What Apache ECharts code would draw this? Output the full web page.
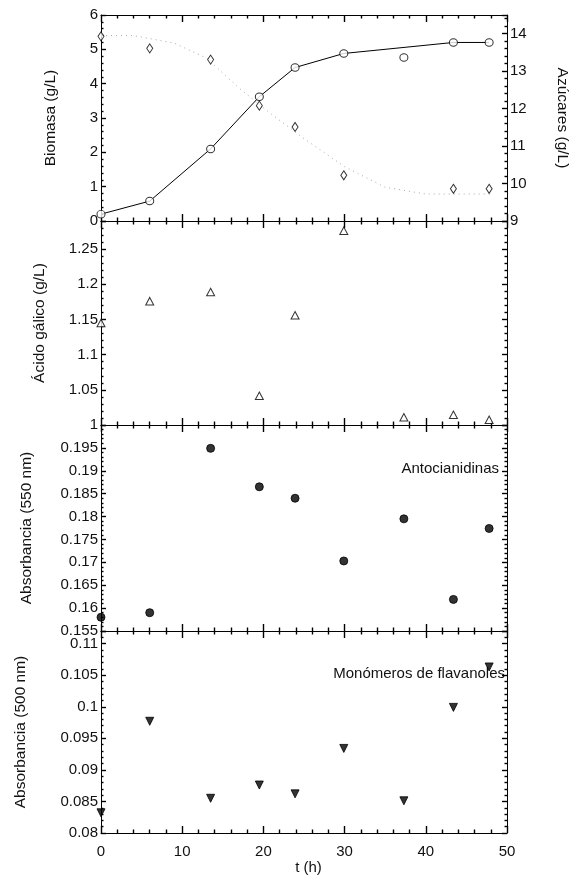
<!DOCTYPE html>
<html>
<head>
<meta charset="utf-8">
<style>
  html, body { margin: 0; padding: 0; background: #fff; }
  #chart { width: 582px; height: 876px; }
</style>
<script src="https://cdn.jsdelivr.net/npm/echarts@6/dist/echarts.min.js"></script>
</head>
<body>
<div id="chart"></div>
<script>
// Sampling times (h)
const hours = [0, 6, 13.5, 19.5, 23.9, 29.9, 37.3, 43.4, 47.8];

// Biomass (g/L), measured and fitted growth curve
const biomass = [0.2, 0.58, 2.1, 3.62, 4.47, 4.88, 4.76, 5.2, 5.2];
const biomassFitHours = [0, 6, 13.5, 19.5, 23.9, 29.9, 43.4, 47.8];
const biomassFit = [0.2, 0.58, 2.1, 3.62, 4.47, 4.88, 5.2, 5.2];

// Sugars (g/L), measured and fitted consumption curve
const sugarHours = [0, 6, 13.5, 19.5, 23.9, 29.9, 43.4, 47.8];
const sugars = [13.93, 13.61, 13.31, 12.08, 11.51, 10.22, 9.86, 9.86];
const sugarFitHours = [0, 4, 9, 13, 17, 21, 25, 30, 35, 40, 48];
const sugarFit = [13.95, 13.95, 13.75, 13.35, 12.55, 11.85, 11.2, 10.45, 9.9, 9.72, 9.72];

// Gallic acid (g/L)
const gallic = [1.145, 1.176, 1.189, 1.0415, 1.156, 1.276, 1.011, 1.0146, 1.0075];

// Absorbances
const anthocyanidins = [0.158, 0.159, 0.1949, 0.1865, 0.184, 0.1703, 0.1795, 0.1619, 0.1774];
const flavanols = [0.0832, 0.0977, 0.0855, 0.0876, 0.0862, 0.0934, 0.0851, 0.0999, 0.1063];

// Axis tick labels on the time axis
const timeTicks = [0, 10, 20, 30, 40, 50];

const FONT = 'Liberation Sans';
const INK = '#111';

const pairs = (xs, ys) => xs.map((x, i) => [x, ys[i]]);

// Pixel boxes of the four stacked plots
const panels = [
  { top: 15, height: 206 },
  { top: 221, height: 204 },
  { top: 425, height: 206 },
  { top: 631, height: 202 }
];

const grids = panels.map(p => ({ left: 101, right: 75, top: p.top, height: p.height }));

const axisInk = () => ({ color: '#000', width: 1 });
const tickInk = () => ({ color: '#000', width: 1.4 });

function timeAxis(gridIndex, position, showLabels) {
  return {
    type: 'value', gridIndex, position,
    min: timeTicks[0], max: timeTicks[timeTicks.length - 1], interval: 10,
    axisLine: { show: true, onZero: false, lineStyle: axisInk() },
    axisTick: { show: true, inside: true, length: 7, lineStyle: tickInk() },
    minorTick: { show: true, splitNumber: 5, length: 3.5, lineStyle: tickInk() },
    splitLine: { show: false },
    minorSplitLine: { show: false },
    axisLabel: {
      show: showLabels, margin: 11, color: INK, fontFamily: FONT, fontSize: 15
    },
    name: showLabels ? 't (h)' : '',
    nameLocation: 'middle', nameGap: 21,
    nameTextStyle: { color: INK, fontFamily: FONT, fontSize: 15, padding: [0, 0, 0, 9] }
  };
}

const xAxes = [];
panels.forEach((p, i) => {
  xAxes.push(timeAxis(i, 'bottom', i === panels.length - 1));
  xAxes.push(timeAxis(i, 'top', false));
});

function valueAxis(gridIndex, position, min, max, interval, opts) {
  const o = opts || {};
  return {
    type: 'value', gridIndex, position, min, max, interval,
    axisLine: { show: true, onZero: false, lineStyle: axisInk() },
    axisTick: { show: true, inside: true, length: 5, lineStyle: tickInk() },
    minorTick: { show: true, splitNumber: 5, length: 2.5, lineStyle: tickInk() },
    splitLine: { show: false },
    minorSplitLine: { show: false },
    axisLabel: {
      show: o.labels !== false, margin: 3, color: INK, fontFamily: FONT, fontSize: 15,
      showMaxLabel: o.showMax === true
    },
    name: o.name || '',
    nameLocation: 'middle', nameGap: o.nameGap || 40,
    nameRotate: position === 'right' ? -90 : 90,
    nameTextStyle: { color: INK, fontFamily: FONT, fontSize: 15.5 }
  };
}

const yAxes = [
  valueAxis(0, 'left', 0, 6, 1, { name: 'Biomasa (g/L)', nameGap: 42, showMax: true }),
  valueAxis(0, 'right', 9, 14.5, 1, { name: 'Azúcares (g/L)', nameGap: 47 }),
  valueAxis(1, 'left', 1, 1.29, 0.05, { name: 'Ácido gálico (g/L)', nameGap: 53 }),
  valueAxis(1, 'right', 1, 1.29, 0.05, { labels: false }),
  valueAxis(2, 'left', 0.155, 0.2, 0.005, { name: 'Absorbancia (550 nm)', nameGap: 66 }),
  valueAxis(2, 'right', 0.155, 0.2, 0.005, { labels: false }),
  valueAxis(3, 'left', 0.08, 0.112, 0.005, { name: 'Absorbancia (500 nm)', nameGap: 72 }),
  valueAxis(3, 'right', 0.08, 0.112, 0.005, { labels: false })
];

const series = [
  {
    name: 'Biomasa (ajuste)', type: 'line', xAxisIndex: 0, yAxisIndex: 0,
    data: pairs(biomassFitHours, biomassFit), showSymbol: false,
    lineStyle: { color: '#000', width: 1 }, z: 2
  },
  {
    name: 'Biomasa', type: 'scatter', xAxisIndex: 0, yAxisIndex: 0,
    data: pairs(hours, biomass), symbol: 'circle', symbolSize: [8, 7.5],
    itemStyle: { color: '#fff', borderColor: '#000', borderWidth: 1 }, z: 3
  },
  {
    name: 'Azúcares (ajuste)', type: 'line', xAxisIndex: 0, yAxisIndex: 1,
    data: pairs(sugarFitHours, sugarFit), showSymbol: false,
    lineStyle: { color: '#aaa', width: 1, type: [1, 4] }, z: 1
  },
  {
    name: 'Azúcares', type: 'scatter', xAxisIndex: 0, yAxisIndex: 1,
    data: pairs(sugarHours, sugars), symbol: 'diamond', symbolSize: [6, 9],
    itemStyle: { color: '#fff', borderColor: '#000', borderWidth: 1 }, z: 3
  },
  {
    name: 'Ácido gálico', type: 'scatter', xAxisIndex: 2, yAxisIndex: 2,
    data: pairs(hours, gallic), symbol: 'triangle', symbolSize: [8, 7.5],
    itemStyle: { color: '#fff', borderColor: '#000', borderWidth: 1 }
  },
  {
    name: 'Antocianidinas', type: 'scatter', xAxisIndex: 4, yAxisIndex: 4,
    data: pairs(hours, anthocyanidins), symbol: 'circle', symbolSize: 8,
    itemStyle: { color: '#000', borderColor: '#000', borderWidth: 1 }
  },
  {
    name: 'Monómeros de flavanoles', type: 'scatter', xAxisIndex: 6, yAxisIndex: 6,
    data: pairs(hours, flavanols), symbol: 'triangle', symbolRotate: 180, symbolSize: [8, 8],
    itemStyle: { color: '#000', borderColor: '#000', borderWidth: 1 }
  }
];

const chart = echarts.init(document.getElementById('chart'), null, { renderer: 'canvas' });
chart.setOption({
  animation: false,
  backgroundColor: '#fff',
  grid: grids,
  xAxis: xAxes,
  yAxis: yAxes,
  series,
  graphic: [
    {
      type: 'text', right: 582 - 499, top: 461,
      style: { text: 'Antocianidinas', fill: INK, font: '15px "Liberation Sans"' }
    },
    {
      type: 'text', right: 582 - 505, top: 666,
      style: { text: 'Monómeros de flavanoles', fill: INK, font: '15px "Liberation Sans"' }
    }
  ]
});
</script>
</body>
</html>
